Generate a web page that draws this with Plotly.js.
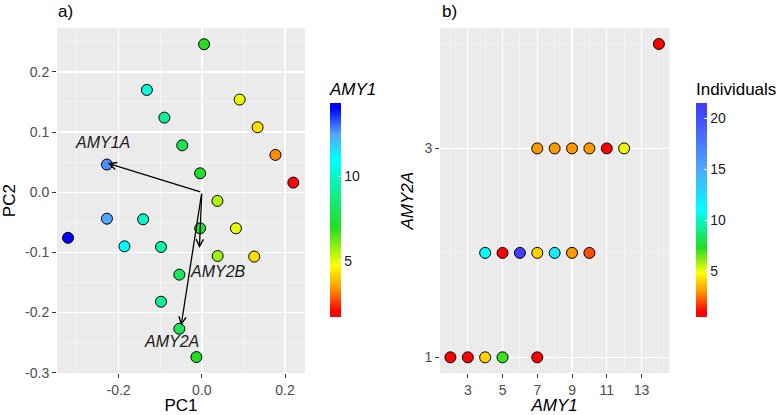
<!DOCTYPE html>
<html>
<head>
<meta charset="utf-8">
<script src="https://cdn.plot.ly/plotly-3.0.1.min.js"></script>
<style>html,body{margin:0;padding:0;background:#fff}#chart{width:781px;height:415px}</style>
</head>
<body>
<div id="chart"></div>
<script>
// ---- Panel a) PCA scores (one point per sample group) ----
const pc1 = [0.0055, -0.132, -0.090, -0.047, -0.004, 0.091, 0.134, 0.177, 0.220, 0.0375, -0.228,
             -0.228, -0.141, -0.3215, -0.186, -0.098, -0.004, 0.082, 0.038, 0.126, -0.054, -0.098, -0.054, -0.013];
const pc2 = [0.246, 0.170, 0.124, 0.078, 0.0315, 0.154, 0.108, 0.062, 0.016, -0.0144, 0.046,
             -0.044, -0.045, -0.0758, -0.090, -0.091, -0.060, -0.060, -0.106, -0.107, -0.137, -0.182, -0.227, -0.274];
const amy1 = [7, 10.3, 9, 7.8, 7.2, 4.9, 4.3, 3.3, 2, 5.5, 12.7,
              12.5, 10, 14, 11, 9.5, 7, 5.0, 5.7, 4.3, 8, 9, 8, 7];

// loadings (arrows from origin)
const loadNames = ['AMY1A', 'AMY2B', 'AMY2A'];
const loadPC1 = [-0.226, -0.0058, -0.0497];
const loadPC2 = [0.048, -0.0929, -0.2217];
const labelPC1 = [-0.238, 0.038, -0.074];
const labelPC2 = [0.0828, -0.1317, -0.2478];

// ---- Panel b) copy numbers ----
const amy1Copies  = [14, 7, 8, 9, 10, 11, 12, 4, 5, 6, 7, 8, 9, 10, 2, 3, 4, 5, 7];
const amy2aCopies = [4, 3, 3, 3, 3, 3, 3, 2, 2, 2, 2, 2, 2, 2, 1, 1, 1, 1, 1];
const individuals = [1, 3, 3, 3, 3, 1, 5, 11, 1, 21, 4, 12, 3, 2, 1, 1, 4, 7, 1];

// tick labels
const pc1Ticks = [-0.2, 0, 0.2];
const pc1TickText = ['-0.2', '0.0', '0.2'];
const pc2Ticks = [-0.3, -0.2, -0.1, 0, 0.1, 0.2];
const pc2TickText = ['-0.3', '-0.2', '-0.1', '0.0', '0.1', '0.2'];
const amy1Ticks = [5, 10];
const indTicks = [5, 10, 15, 20];
const amy1XTicks = [3, 5, 7, 9, 11, 13];
const amy2aTicks = [1, 3];

// colour scales defined in value space
const amy1Stops = [[2, '#FF0000'], [3.4, '#FF9900'], [4.7, '#FFFF00'], [7, '#22DD22'], [11, '#00FFFF'], [12.5, '#55A5FF'], [14, '#0000FF']];
const indStops  = [[1, '#FF0000'], [3, '#FF9900'], [4.8, '#FFFF00'], [7.3, '#22DD22'], [11, '#00FFFF'], [15, '#4FA8FF'], [21, '#3F3FFF']];

function scale(stops, lo, hi) {
  const out = [[0, stops[0][1]]];
  stops.forEach(s => out.push([(s[0] - lo) / (hi - lo), s[1]]));
  out.push([1, stops[stops.length - 1][1]]);
  return out;
}
// ggplot-style bar: limits sit half a bin inside the bar ends
const a1Lo = 2 - 12 / 38, a1Hi = 14 + 12 / 38;
const inLo = 1 - 20 / 38, inHi = 21 + 20 / 38;

const W = 781, H = 415;
const px = v => v / W, py = v => 1 - v / H;
const FONT = 'Liberation Sans, Arial, sans-serif';

function cbar(x, titleText, tickvals) {
  return {
    x: px(x), xanchor: 'left', xpad: 0, xref: 'paper',
    y: py(317), yanchor: 'bottom', ypad: 0, yref: 'paper',
    len: 238, lenmode: 'pixels', thickness: 10.5, outlinewidth: 0,
    tickvals: tickvals, ticks: 'inside', ticklen: 2.5, tickcolor: 'white', tickwidth: 1,
    tickfont: { size: 14, color: '#1a1a1a', family: FONT },
    title: { text: titleText, side: 'top', font: { size: 17, color: '#000', family: FONT } }
  };
}

const traces = [
  {
    type: 'scatter', mode: 'markers', x: pc1, y: pc2, xaxis: 'x', yaxis: 'y',
    marker: { color: amy1, colorscale: scale(amy1Stops, a1Lo, a1Hi), cmin: a1Lo, cmax: a1Hi,
      size: 11, line: { color: '#000', width: 1 }, showscale: true,
      colorbar: cbar(330, '<i>AMY1</i>', amy1Ticks) },
    hoverinfo: 'skip', showlegend: false
  },
  {
    type: 'scatter', mode: 'markers', x: amy1Copies, y: amy2aCopies, xaxis: 'x2', yaxis: 'y2',
    marker: { color: individuals, colorscale: scale(indStops, inLo, inHi), cmin: inLo, cmax: inHi,
      size: 11, line: { color: '#000', width: 1 }, showscale: true,
      colorbar: cbar(696, 'Individuals', indTicks) },
    hoverinfo: 'skip', showlegend: false
  }
];

const annotations = [];
loadNames.forEach((n, i) => {
  annotations.push({ xref: 'x', yref: 'y', axref: 'x', ayref: 'y', x: loadPC1[i], y: loadPC2[i], ax: 0, ay: 0,
    showarrow: true, arrowhead: 5, arrowsize: 1.1, arrowwidth: 1.3, arrowcolor: '#000', standoff: 0, startstandoff: 0, text: '' });
  annotations.push({ xref: 'x', yref: 'y', x: labelPC1[i], y: labelPC2[i], text: '<i>' + n + '</i>', showarrow: false,
    font: { size: 16, color: '#1a1a1a', family: FONT }, xanchor: 'center', yanchor: 'middle' });
});
annotations.push({ xref: 'paper', yref: 'paper', x: px(56), y: py(11), text: 'a)', showarrow: false, xanchor: 'left', yanchor: 'middle',
  font: { size: 17, color: '#000', family: FONT } });
annotations.push({ xref: 'paper', yref: 'paper', x: px(440), y: py(11), text: 'b)', showarrow: false, xanchor: 'left', yanchor: 'middle',
  font: { size: 17, color: '#000', family: FONT } });

const common = {
  showgrid: true, gridcolor: '#FFFFFF', gridwidth: 1.4, zeroline: false, showline: false,
  ticks: 'outside', ticklen: 4, tickwidth: 1, tickcolor: '#333333',
  tickfont: { size: 14, color: '#4D4D4D', family: FONT }, automargin: false
};
const minorGrid = { showgrid: true, gridcolor: '#F7F7F7', gridwidth: 0.7, ticks: '' };

const layout = {
  width: W, height: H, margin: { l: 0, r: 0, t: 0, b: 0 },
  paper_bgcolor: '#FFFFFF', plot_bgcolor: '#EBEBEB', showlegend: false,
  font: { family: FONT },
  xaxis: Object.assign({}, common, { domain: [px(57), px(305)], range: [-0.348, 0.248],
    tickmode: 'array', tickvals: pc1Ticks, ticktext: pc1TickText,
    minor: Object.assign({ tickmode: 'array', tickvals: [-0.3, -0.1, 0.1] }, minorGrid),
    title: { text: 'PC1', standoff: 7, font: { size: 17, color: '#000', family: FONT } } }),
  yaxis: Object.assign({}, common, { domain: [py(373), py(28.3)], range: [-0.3005, 0.2725],
    tickmode: 'array', tickvals: pc2Ticks, ticktext: pc2TickText,
    minor: Object.assign({ tickmode: 'array', tickvals: [-0.25, -0.15, -0.05, 0.05, 0.15, 0.25] }, minorGrid),
    title: { text: 'PC2', standoff: 6, font: { size: 17, color: '#000', family: FONT } } }),
  xaxis2: Object.assign({}, common, { domain: [px(440), px(669.3)], range: [1.4, 14.6], anchor: 'y2',
    tickmode: 'array', tickvals: amy1XTicks,
    minor: Object.assign({ tickmode: 'array', tickvals: [2, 4, 6, 8, 10, 12, 14] }, minorGrid),
    title: { text: '<i>AMY1</i>', standoff: 7, font: { size: 17, color: '#000', family: FONT } } }),
  yaxis2: Object.assign({}, common, { domain: [py(373), py(28.3)], range: [0.85, 4.15], anchor: 'x2',
    tickmode: 'array', tickvals: amy2aTicks,
    minor: Object.assign({ tickmode: 'array', tickvals: [2, 4] }, minorGrid),
    title: { text: '<i>AMY2A</i>', standoff: 6, font: { size: 17, color: '#000', family: FONT } } }),
  annotations: annotations
};

Plotly.newPlot('chart', traces, layout, { staticPlot: true, displayModeBar: false });
</script>
</body>
</html>
